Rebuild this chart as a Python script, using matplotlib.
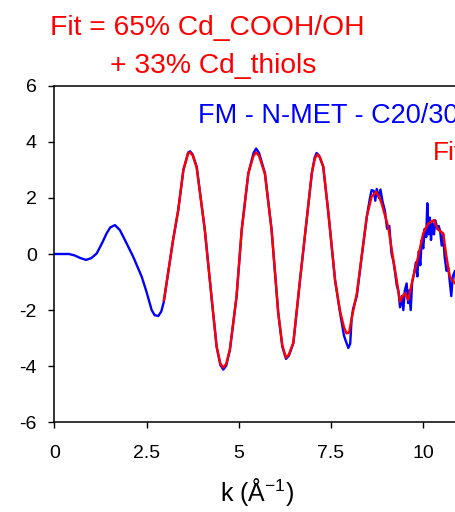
import matplotlib
matplotlib.use("Agg")
import matplotlib.pyplot as plt

plt.rcParams['font.family'] = ['Liberation Sans', 'DejaVu Sans']
plt.rcParams['mathtext.fontset'] = 'custom'
plt.rcParams['mathtext.rm'] = 'Liberation Sans'
plt.rcParams['axes.unicode_minus'] = False

# experimental k^3 chi(k)
k_exp = [0.00, 0.20, 0.40, 0.55, 0.70, 0.86, 1.00, 1.15, 1.30, 1.42, 1.52, 1.645,
         1.78, 1.96, 2.14, 2.37, 2.50, 2.64, 2.72, 2.82, 2.90, 2.97, 3.10, 3.22,
         3.36, 3.50, 3.63, 3.68, 3.75, 3.86, 4.08, 4.27, 4.40, 4.50, 4.58, 4.66,
         4.76, 4.94, 5.08, 5.26, 5.40, 5.47, 5.55, 5.71, 5.89, 6.07, 6.18, 6.28,
         6.36, 6.48, 6.66, 6.84, 6.98, 7.06, 7.11, 7.18, 7.29, 7.43, 7.61, 7.74,
         7.85, 7.90, 7.97, 8.02, 8.06, 8.10, 8.20, 8.33, 8.47, 8.55, 8.60, 8.66,
         8.70, 8.74, 8.80, 8.84, 8.90, 8.96, 9.02, 9.08, 9.14, 9.19, 9.24, 9.28,
         9.33, 9.37, 9.42, 9.46, 9.50, 9.55, 9.59, 9.62, 9.66, 9.70, 9.75, 9.80,
         9.84, 9.88, 9.92, 9.96, 10.00, 10.04, 10.08, 10.11, 10.14, 10.18, 10.21,
         10.25, 10.29, 10.33, 10.38, 10.42, 10.46, 10.50, 10.54, 10.58, 10.63,
         10.68, 10.72, 10.76, 10.80, 10.86, 10.90, 10.95, 11.00]
chi_exp = [0.00, 0.00, 0.00, -0.05, -0.14, -0.21, -0.15, 0.02, 0.40, 0.74, 0.95, 1.03,
           0.85, 0.38, -0.10, -0.81, -1.35, -2.00, -2.18, -2.21, -2.05, -1.70, -0.55, 0.50,
           1.57, 3.00, 3.62, 3.66, 3.55, 3.11, 0.86, -1.64, -3.30, -3.95, -4.12, -3.98,
           -3.42, -1.52, 0.86, 2.88, 3.60, 3.76, 3.60, 2.88, 0.86, -2.10, -3.30, -3.74,
           -3.62, -3.18, -0.93, 1.21, 2.88, 3.45, 3.60, 3.50, 3.11, 1.45, -0.93, -2.05,
           -2.90, -3.10, -3.35, -3.20, -2.30, -1.95, -1.50, -0.10, 1.33, 1.95, 2.28, 2.25,
           1.90, 2.32, 2.00, 2.30, 1.85, 1.55, 0.90, 1.00, 0.02, -0.25, -0.70, -1.10,
           -1.35, -1.90, -1.50, -2.00, -1.30, -1.05, -1.75, -1.30, -2.00, -1.00, -0.70, -0.30,
           -0.80, 0.10, -0.40, 0.50, 0.20, 0.90, 0.60, 1.81, 0.70, 1.30, 0.50,
           1.10, 0.70, 1.20, 0.90, 1.00, 0.80, 0.30, 0.70, -0.10, -0.60,
           -0.50, -1.00, -1.50, -0.80, -0.60, -1.20, -0.90, -1.30]

# linear combination fit
k_fit = [2.97, 3.10, 3.22, 3.36, 3.50, 3.63, 3.68, 3.75, 3.86, 4.08, 4.27, 4.40,
         4.50, 4.58, 4.66, 4.76, 4.94, 5.08, 5.26, 5.40, 5.47, 5.55, 5.71, 5.89,
         6.07, 6.18, 6.28, 6.36, 6.48, 6.66, 6.84, 6.98, 7.06, 7.13, 7.20, 7.29,
         7.43, 7.61, 7.74, 7.85, 7.92, 7.99, 8.06, 8.20, 8.33, 8.47, 8.60, 8.72,
         8.80, 8.87, 9.05, 9.19, 9.28, 9.37, 9.44, 9.50, 9.59, 9.73, 9.86, 10.00,
         10.14, 10.29, 10.35, 10.41, 10.54, 10.63, 10.72, 10.86, 11.00]
chi_fit = [-1.65, -0.55, 0.50, 1.57, 3.00, 3.60, 3.62, 3.52, 3.08, 0.86, -1.64, -3.30,
           -3.90, -4.05, -3.92, -3.40, -1.52, 0.86, 2.88, 3.50, 3.62, 3.50, 2.85, 0.86,
           -2.10, -3.25, -3.70, -3.58, -3.15, -0.93, 1.21, 2.88, 3.40, 3.55, 3.45, 3.11,
           1.45, -0.93, -2.00, -2.60, -2.83, -2.80, -2.30, -1.40, -0.10, 1.33, 2.04, 2.22,
           2.05, 1.81, 0.97, -0.21, -0.93, -1.70, -1.50, -1.40, -1.64, -0.81, -0.10, 0.74,
           1.09, 1.21, 1.00, 0.86, 0.74, -0.10, -0.81, -1.05, -1.20]

x_ticks = [0, 2.5, 5, 7.5, 10]
x_tick_labels = ["0", "2.5", "5", "7.5", "10"]
y_ticks = [-6, -4, -2, 0, 2, 4, 6]

fig = plt.figure(figsize=(4.56, 5.12), dpi=100)
# axes runs past the right edge of the picture (the original is cropped)
ax = fig.add_axes([0.119, 0.1752, 0.971, 0.6574])

ax.plot(k_exp, chi_exp, color="#0000ff", lw=1.7, zorder=2)
ax.plot(k_fit, chi_fit, color="#ff0000", lw=1.7, zorder=3)

ax.set_xlim(0, 12)
ax.set_ylim(-6, 6)
ax.set_xticks(x_ticks)
ax.set_xticklabels(x_tick_labels)
ax.set_yticks(y_ticks)
ax.tick_params(axis="both", direction="out", length=4.5, width=1, labelsize=14, colors="black")
ax.tick_params(axis="x", pad=12)
ax.tick_params(axis="y", pad=8)
for sp in ax.spines.values():
    sp.set_linewidth(1.1)

ax.set_xlabel(r"k (Å$^{\mathregular{-1}}$)", fontsize=18)
ax.xaxis.set_label_coords(0.458, -0.16)

ax.text(3.90, 4.66, "FM - N-MET - C20/300", color="#0000ff", fontsize=19.5, va="baseline")
ax.text(10.26, 3.35, "Fit", color="#ff0000", fontsize=19, va="baseline")

fig.text(50 / 456, 1 - 35 / 512, "Fit = 65% Cd_COOH/OH", color="#ff0000", fontsize=20.3, va="baseline")
fig.text(110 / 456, 1 - 73 / 512, "+ 33% Cd_thiols", color="#ff0000", fontsize=20.3, va="baseline")

fig.savefig("out.png", dpi=100)
